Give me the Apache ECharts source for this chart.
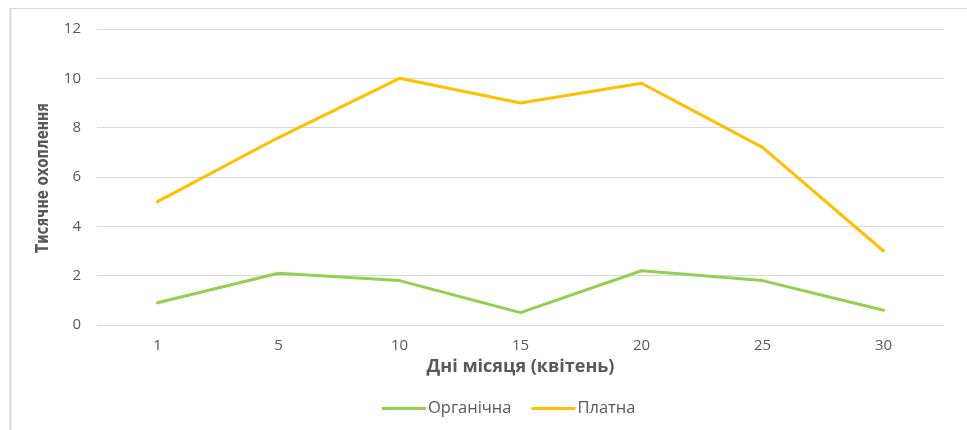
<!DOCTYPE html>
<html><head><meta charset="utf-8">
<script src="https://cdn.jsdelivr.net/npm/echarts@6/dist/echarts.min.js"></script>
<style>html,body{margin:0;padding:0;background:#fff}#c{width:967px;height:430px}</style>
</head><body><div id="c"></div>
<script>
const days = ['1','5','10','15','20','25','30'];
const organic = [0.9, 2.1, 1.8, 0.5, 2.2, 1.8, 0.6];
const paid = [5, 7.6, 10, 9, 9.8, 7.2, 3];
const seriesNames = ['Органічна','Платна'];
const yTitle = 'Тисячне охоплення';
const xTitle = 'Дні місяця (квітень)';

const chart = echarts.init(document.getElementById('c'), null, {renderer:'canvas'});
const textColor = '#595959';
chart.setOption({
  animation:false,
  backgroundColor:'#fff',
  graphic:[
    {type:'line', shape:{x1:10.5,y1:8,x2:10.5,y2:430}, style:{stroke:'#d9d9d9',lineWidth:2}},
    {type:'line', shape:{x1:10,y1:8.5,x2:967,y2:8.5}, style:{stroke:'#d9d9d9',lineWidth:1}},
    {type:'text', x:44, y:178, rotation:Math.PI/2, scaleX:0.79, silent:true,
     style:{text:yTitle, align:'center', verticalAlign:'middle', fill:textColor,
            font:"bold 17px 'DejaVu Sans', sans-serif"}}
  ],
  grid:{left:97, right:23, top:29, bottom:105, containLabel:false},
  legend:{
    data:seriesNames, top:400, left:382, padding:0, itemWidth:44, itemHeight:3, itemGap:20,
    icon:'rect',
    textStyle:{color:textColor, fontSize:16.5, fontFamily:'Open Sans', padding:[0,0,0,-3]}
  },
  xAxis:{
    type:'category', data:days, boundaryGap:true,
    name:xTitle, nameLocation:'middle', nameGap:33,
    nameTextStyle:{color:textColor, fontSize:18, fontWeight:'bold', fontFamily:'Open Sans'},
    axisLine:{show:true, lineStyle:{color:'#d9d9d9'}},
    axisTick:{show:false},
    axisLabel:{color:textColor, fontSize:15, fontFamily:'Open Sans', margin:13}
  },
  yAxis:{
    type:'value', min:0, max:12, interval:2,
    axisLine:{show:false}, axisTick:{show:false},
    splitLine:{lineStyle:{color:'#d9d9d9', width:1}},
    axisLabel:{color:textColor, fontSize:15, fontFamily:'Open Sans', margin:16}
  },
  series:[
    {name:seriesNames[0], type:'line', data:organic, showSymbol:false, symbol:'none',
     lineStyle:{color:'#92d050', width:3, cap:'round', join:'round'}, itemStyle:{color:'#92d050'}},
    {name:seriesNames[1], type:'line', data:paid, showSymbol:false, symbol:'none',
     lineStyle:{color:'#ffc000', width:3, cap:'round', join:'round'}, itemStyle:{color:'#ffc000'}}
  ]
});
</script></body></html>
